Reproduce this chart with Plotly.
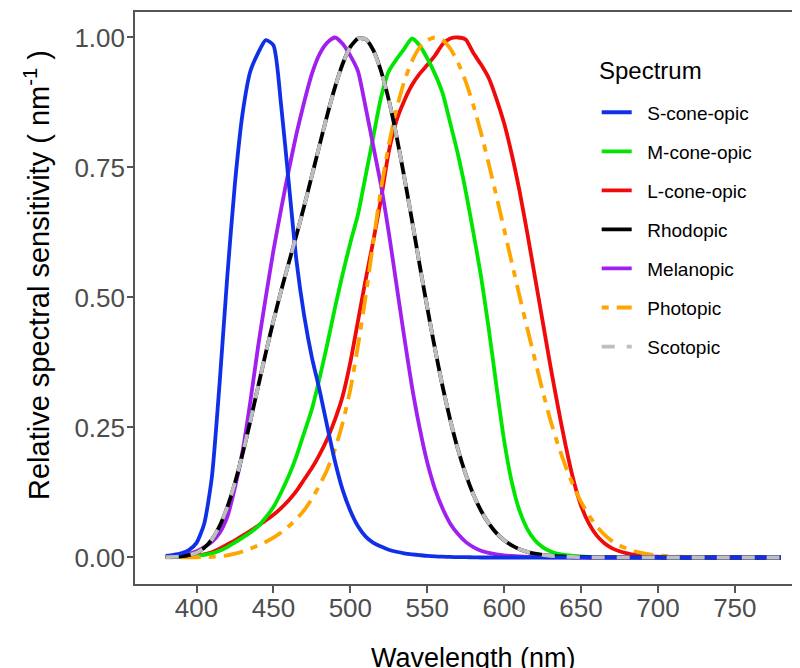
import plotly.graph_objects as go

# ---------------- data ----------------
wavelength = [380, 385, 390, 395, 400, 405, 410, 415, 420, 425, 430, 435, 440, 445, 450,
              455, 460, 465, 470, 475, 480, 485, 490, 495, 500, 505, 510, 515, 520, 525,
              530, 535, 540, 545, 550, 555, 560, 565, 570, 575, 580, 585, 590, 595, 600,
              605, 610, 615, 620, 625, 630, 635, 640, 645, 650, 655, 660, 665, 670, 675,
              680, 685, 690, 695, 700, 705, 710, 715, 720, 725, 730, 735, 740, 745, 750,
              755, 760, 765, 770, 775, 780]

s_cone = [0.003, 0.005, 0.008, 0.014, 0.028, 0.065, 0.155, 0.335, 0.54, 0.72,
          0.855, 0.935, 0.97, 0.995, 0.985, 0.87, 0.72, 0.57, 0.465, 0.385,
          0.322, 0.252, 0.185, 0.13, 0.09, 0.06, 0.04, 0.028, 0.021, 0.015,
          0.011, 0.008, 0.006, 0.0045, 0.003, 0.002, 0.0015, 0.001, 0.0007, 0.0005,
          0.0003] + [0.0] * 40

m_cone = [0.0005, 0.001, 0.0015, 0.002, 0.003, 0.005, 0.008, 0.013, 0.02, 0.029,
          0.038, 0.048, 0.06, 0.077, 0.097, 0.125, 0.157, 0.195, 0.24, 0.285,
          0.345, 0.41, 0.48, 0.545, 0.605, 0.66, 0.735, 0.81, 0.885, 0.935,
          0.958, 0.978, 0.998, 0.985, 0.96, 0.93, 0.893, 0.835, 0.775, 0.705,
          0.625, 0.54, 0.44, 0.33, 0.225, 0.145, 0.09, 0.055, 0.033, 0.02,
          0.012, 0.007, 0.0045, 0.003, 0.002, 0.0013, 0.0008, 0.0005, 0.0003, 0.0002,
          0.0001] + [0.0] * 20

l_cone = [0.0005, 0.001, 0.002, 0.003, 0.004, 0.006, 0.01, 0.017, 0.025, 0.033,
          0.042, 0.051, 0.061, 0.071, 0.082, 0.095, 0.11, 0.128, 0.15, 0.172,
          0.198, 0.228, 0.265, 0.31, 0.375, 0.455, 0.535, 0.61, 0.69, 0.78,
          0.84, 0.878, 0.908, 0.93, 0.947, 0.965, 0.987, 0.998, 1.0, 0.996,
          0.97, 0.948, 0.922, 0.882, 0.835, 0.775, 0.705, 0.625, 0.54, 0.455,
          0.37, 0.29, 0.215, 0.15, 0.1, 0.066, 0.043, 0.028, 0.018, 0.012,
          0.008, 0.005, 0.0033, 0.0022, 0.0015, 0.001, 0.0007, 0.0005, 0.0003, 0.0002,
          0.0001] + [0.0] * 10

rhodopic = [0.000589, 0.001108, 0.002209, 0.00453, 0.00929, 0.01852, 0.03484, 0.0604, 0.0966, 0.1436,
            0.1998, 0.2625, 0.3281, 0.3931, 0.455, 0.513, 0.567, 0.62, 0.676, 0.734,
            0.793, 0.851, 0.904, 0.949, 0.982, 0.998, 0.997, 0.975, 0.935, 0.88,
            0.811, 0.733, 0.65, 0.564, 0.481, 0.402, 0.3288, 0.2639, 0.2076, 0.1602,
            0.1212, 0.0899, 0.0655, 0.0469, 0.03315, 0.02312, 0.01593, 0.01088, 0.00737, 0.00497,
            0.003335, 0.002235, 0.001497, 0.001005, 0.000677, 0.000459, 0.000313, 0.000215, 0.000148, 0.000103,
            0.0000715, 0.00005, 0.0000353, 0.000025, 0.0000178] + [0.0] * 16

melanopic = [0.001, 0.002, 0.004, 0.007, 0.012, 0.02, 0.03, 0.047, 0.078, 0.135,
             0.205, 0.3, 0.405, 0.5, 0.59, 0.67, 0.745, 0.815, 0.876, 0.93,
             0.968, 0.99, 1.0, 0.988, 0.965, 0.935, 0.865, 0.79, 0.715, 0.625,
             0.525, 0.425, 0.33, 0.25, 0.183, 0.132, 0.094, 0.065, 0.045, 0.03,
             0.02, 0.013, 0.009, 0.006, 0.004, 0.003, 0.002, 0.0012, 0.0008, 0.0005,
             0.0003, 0.0002, 0.0001] + [0.0] * 28

photopic = [0.000039, 0.000064, 0.00012, 0.000217, 0.000396, 0.00064, 0.00121, 0.00218, 0.004, 0.0073,
            0.0116, 0.01684, 0.023, 0.0298, 0.038, 0.048, 0.06, 0.0739, 0.09098, 0.1126,
            0.13902, 0.1693, 0.20802, 0.2586, 0.323, 0.4073, 0.503, 0.6082, 0.71, 0.7932,
            0.862, 0.9149, 0.954, 0.9803, 0.99495, 1.0, 0.995, 0.9786, 0.952, 0.9154,
            0.87, 0.8163, 0.757, 0.6949, 0.631, 0.5668, 0.503, 0.4412, 0.381, 0.321,
            0.265, 0.217, 0.175, 0.1382, 0.107, 0.0816, 0.061, 0.04458, 0.032, 0.0232,
            0.017, 0.01192, 0.00821, 0.005723, 0.004102, 0.002929, 0.002091, 0.001484, 0.001047, 0.00074,
            0.00052, 0.000361, 0.000249, 0.000172, 0.00012, 0.0000848, 0.00006, 0.0000424, 0.00003, 0.0000212,
            0.000015]

scotopic = list(rhodopic)

# legend order
series_names = ["S-cone-opic", "M-cone-opic", "L-cone-opic", "Rhodopic",
                "Melanopic", "Photopic", "Scotopic"]
series_values = [s_cone, m_cone, l_cone, rhodopic, melanopic, photopic, scotopic]

for vals in series_values:
    assert len(vals) == len(wavelength)

x_ticks = [400, 450, 500, 550, 600, 650, 700, 750]
y_ticks = [0.0, 0.25, 0.5, 0.75, 1.0]

# ---------------- styles ----------------
colors = ["#1030e8", "#00e600", "#f00a0a", "#000000", "#a020f0", "#ffa500", "#bebebe"]
dashes = ["solid", "solid", "solid", "solid", "solid", "7px,8px,20px,8px", "13px,12px"]
draw_order = [2, 1, 4, 5, 3, 0, 6]   # indices into series_* lists, bottom to top

FONT = "Liberation Sans, Arial, Helvetica, sans-serif"
GREY = "#4d4d4d"
AXIS = "#555555"
NBSP = "\u00a0"

fig = go.Figure()
for i in draw_order:
    fig.add_trace(go.Scatter(
        x=wavelength, y=series_values[i], mode="lines",
        name=NBSP * 2 + series_names[i],
        legendgroup=series_names[i], legendrank=100 + i,
        line=dict(color=colors[i], width=3.8, dash=dashes[i], shape="spline", smoothing=0.6),
        hoverinfo="x+y+name",
    ))

# page is shown with the browser's 8px body margin, so work in figure pixels = screen - 8
W, H = 792, 660
L, R, T, B = 127, 0, 4, 84
PW, PH = W - L - R, H - T - B
x_lo = 360
x_hi = 360 + PW / 1.538


def px(xpix):
    return (xpix - L) / PW


def py(ypix):
    return (H - B - ypix) / PH


fig.update_layout(
    width=W, height=H,
    margin=dict(l=L, r=R, t=T, b=B, autoexpand=False),
    paper_bgcolor="white", plot_bgcolor="white",
    font=dict(family=FONT, color="black"),
    showlegend=True,
    legend=dict(
        x=px(588.7), y=py(85.4),
        xanchor="left", yanchor="top",
        bgcolor="rgba(0,0,0,0)",
        font=dict(size=19, family=FONT, color="black"),
        tracegroupgap=11.35,
        itemwidth=30,
        traceorder="grouped",
    ),
    xaxis=dict(
        range=[x_lo, x_hi], tickvals=x_ticks, ticktext=[str(v) for v in x_ticks],
        showgrid=False, zeroline=False,
        showline=True, linecolor=AXIS, linewidth=1.6, mirror=True,
        ticks="outside", ticklen=7, tickwidth=1.6, tickcolor=AXIS,
        ticklabelstandoff=-7,
        tickfont=dict(size=26, color=GREY, family=FONT),
    ),
    yaxis=dict(
        range=[-0.051, 1.049], tickvals=y_ticks, ticktext=["%.2f" % v for v in y_ticks],
        showgrid=False, zeroline=False,
        showline=True, linecolor=AXIS, linewidth=1.6, mirror=False,
        ticks="outside", ticklen=6, tickwidth=1.6, tickcolor=AXIS,
        ticklabelstandoff=-3,
        tickfont=dict(size=26, color=GREY, family=FONT),
    ),
    annotations=[
        dict(text="Spectrum", xref="paper", yref="paper",
             x=px(588.7), y=py(62.7), xanchor="left", yanchor="middle", showarrow=False,
             font=dict(size=24, family=FONT, color="black")),
        dict(text="Wavelength (nm)", xref="paper", yref="paper",
             x=px(465.6), y=py(650),
             xanchor="center", yanchor="middle", showarrow=False,
             font=dict(size=27, family=FONT, color="black")),
        dict(text="Relative spectral sensitivity ( nm<sup>-1</sup> )", xref="paper", yref="paper",
             x=px(29), y=py(267), textangle=-90,
             xanchor="center", yanchor="middle", showarrow=False,
             font=dict(size=29, family=FONT, color="black")),
    ],
)

fig.write_html("out.html")
